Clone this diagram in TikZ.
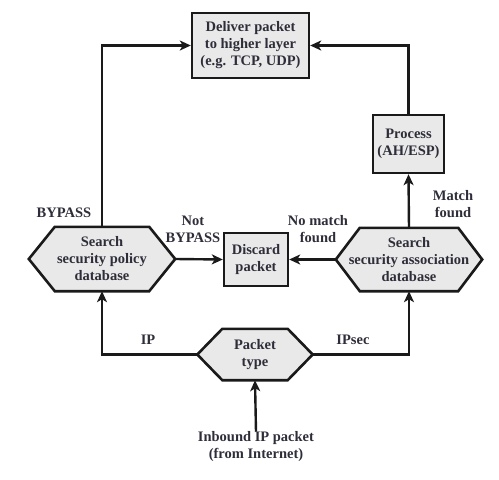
\documentclass[tikz,border=0pt]{standalone}
\usepackage{fontspec}
\setmainfont{Liberation Serif}
\usetikzlibrary{arrows.meta,calc}
\definecolor{boxfill}{HTML}{E9E9E9}
\definecolor{ink}{HTML}{1A1A1A}
\definecolor{txt}{HTML}{2E2E3A}
\begin{document}
\begin{tikzpicture}[x=1pt,y=-1pt,
  every node/.style={font=\fontsize{14.5}{17}\selectfont\bfseries, text=txt, align=center},
  rbox/.style={draw=ink, line width=2.4pt, fill=boxfill, inner sep=0pt},
  hexnode/.style={inner sep=0pt},
  hexline/.style={draw=ink, line width=2.6pt, fill=boxfill, line join=miter},
  conn/.style={draw=ink, line width=2.4pt},
  arr/.style={conn, -{Stealth[length=11pt,width=10pt,inset=3pt]}},
  lbl/.style={inner sep=0pt}
]
\useasboundingbox (0,0) rectangle (499,480);

% boxes
\node[rbox, minimum width=117pt, minimum height=65pt] (del) at (250.5,45.5) {Deliver packet\\to higher layer\\(e.g. TCP, UDP)};
\node[rbox, minimum width=71pt, minimum height=58pt] (proc) at (408.5,144) {Process\\(AH/ESP)};
\node[rbox, minimum width=64pt, minimum height=53pt] (dis) at (256,259.5) {Discard\\packet};

% hexagons
\newcommand{\hexdraw}[2]{%
  \path[hexline] (#1.west) -- ([xshift=#2]#1.north west) -- ([xshift=-#2]#1.north east)
    -- (#1.east) -- ([xshift=-#2]#1.south east) -- ([xshift=#2]#1.south west) -- cycle;}

\node[hexnode, minimum width=146pt, minimum height=64pt] (pol) at (102,259) {};
\hexdraw{pol}{26pt}
\node at (pol) {Search\\security policy\\database};

\node[hexnode, minimum width=146pt, minimum height=63pt] (sa) at (409,259.5) {};
\hexdraw{sa}{24pt}
\node at (sa) {Search\\security association\\database};

\node[hexnode, minimum width=115pt, minimum height=51pt] (pt) at (255,354.5) {};
\hexdraw{pt}{25pt}
\node at (pt) {Packet\\type};

\node[lbl] (in) at (256,447) {Inbound IP packet\\(from Internet)};

% connectors
\draw[arr] (in.north) -- (pt.south);
\draw[arr] (pt.west) -| (pol.south);
\draw[arr] (pt.east) -| (sa.south);
\draw[arr] (pol.east) -- (dis.west);
\draw[arr] (sa.west) -- (dis.east);
\draw[arr] (sa.north) -- (proc.south);
\draw[arr] (pol.north) |- (del.west);
\draw[arr] (proc.north) |- (del.east);

% labels
\node[lbl] (lby) at (64,213) {BYPASS};
\node[lbl] (lnb) at (193,229) {Not\\BYPASS};
\node[lbl] (lnm) at (318,229) {No match\\found};
\node[lbl] (lmf) at (453,204) {Match\\found};
\node[lbl] (lip) at (148,340) {IP};
\node[lbl] (lips) at (353,340) {IPsec};
\end{tikzpicture}
\end{document}
